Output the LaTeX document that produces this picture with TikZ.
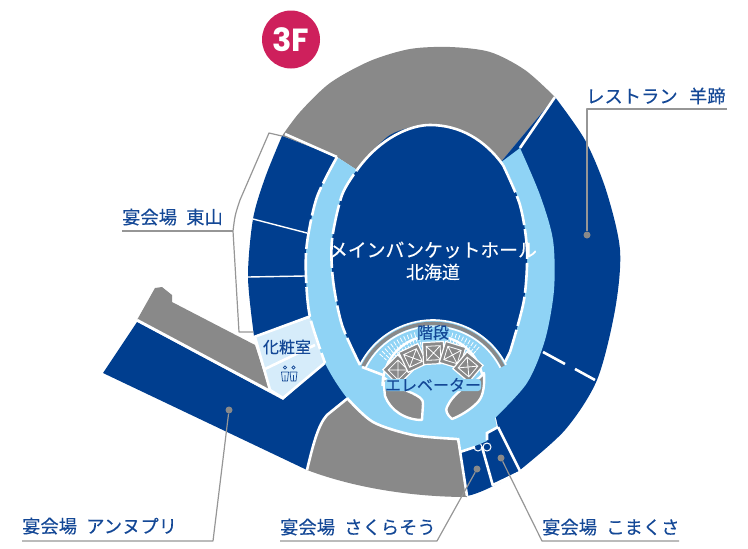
\documentclass[tikz,border=0pt]{standalone}
\usepackage{fontspec}
\setmainfont{Noto Sans CJK JP}[FakeBold=0.25]
\newfontfamily\popf{Poppins}
\definecolor{navy}{RGB}{0,62,143}
\definecolor{lab}{RGB}{20,72,150}
\definecolor{ringc}{RGB}{143,211,245}
\definecolor{pale}{RGB}{214,236,250}
\definecolor{grayc}{RGB}{137,137,137}
\definecolor{linec}{RGB}{150,150,150}
\definecolor{crim}{RGB}{206,32,92}
\tikzset{
 lbl/.style={text=lab,font=\fontsize{18.3}{18.3}\selectfont,inner sep=0pt,anchor=base west},
 lead/.style={draw=linec,line width=1.2pt,line join=round},
 wl/.style={draw=white,line width=2.6pt},
 door/.style={draw=white,line width=2.6pt,dash pattern=on 30pt off 4pt},
 dotc/.style={circle,fill=grayc,inner sep=0pt,minimum size=7pt},
 roomlbl/.style={text=lab,font=\fontsize{16}{16}\selectfont,inner sep=1pt},
}
\begin{document}
\begin{tikzpicture}[x=1pt,y=-1pt]
\useasboundingbox (0,0) rectangle (748,549);
% top gray
\fill[grayc] plot[smooth] coordinates {(282,136)(300,112)(330,83)(370,61)(410,49)(450,47)(490,52)(525,70)(555,97)} -- (500,163) -- (357,170) -- (337,157) -- cycle;
% restaurant
\fill[navy] plot[smooth] coordinates {(555,97)(585,140)(606,190)(620,250)(615,310)(597,380)(565,430)(520,470)} -- (498,427) -- (470,300) -- (500,163) -- cycle;
\draw[wl] (555,97) -- (520,148);
\draw[wl] (543,352) -- (565,364) (575,369) -- (595,380);
% small rooms
\fill[navy] (460,450) -- (467,496) .. controls (478,494) and (500,484) .. (520,470) -- (498,427) -- cycle;
% east hall
\fill[navy] plot[smooth] coordinates {(282,136)(265,178)(253,219)(248,277)(254,336)} -- (310,317) -- (320,270) -- (337,157) -- cycle;
\draw[wl] (285,134) -- (337,157);
\draw[white,line width=1.4pt] (253,219) -- (307,233) (248,277) -- (305,276);
% west wing gray
\fill[grayc] (137,320) -- (155,288) -- (162,287) -- (172,295) -- (172,302) -- (255,345) -- (270,392) -- cycle;
% annupuri
\fill[navy] (137,322) -- (283,400) -- (325,363) -- (350,400) -- (327,415) -- (307,470) -- (103,373) -- cycle;
\draw[wl] (137,320) -- (270,391);
% powder room
\fill[pale] (255,337) -- (310,318) -- (325,363) -- (283,398) -- (270,390) -- cycle;
\draw[wl] (254,337) -- (311,316) (265,369) -- (315,345);
\draw[wl] (255,337) -- (270,390) -- (283,398) -- (326,362);
% bottom gray
\fill[grayc] plot[smooth] coordinates {(347,398)(373,422)(413,435)(457,439)} -- (467,497) .. controls (420,497) and (360,490) .. (307,470) .. controls (313,445) and (318,425) .. (327,415) -- cycle;
\draw[wl] (348,398) -- (327,415) .. controls (318,425) and (313,445) .. (307,470);
% door swings
\draw[white,line width=1pt] (478,447) circle (4) (487,447) circle (4) (337,375) circle (4) (341,381) circle (4);
% ring
\fill[ringc] plot[smooth] coordinates {(337,157)(317,197)(307,243)(306,277)(310,317)(325,363)(347,398)(373,422)(413,435)(457,439)} -- (460,451) -- (475,446) -- (487,441) -- (487,434) -- (497,428) -- (495,418) -- plot[smooth] coordinates {(495,418)(527,383)(545,340)(554,290)(553,240)(540,195)(520,148)} -- (500,163) -- (357,170) -- cycle;
\draw[wl] plot[smooth] coordinates {(347,398)(373,422)(413,435)(457,439)};
\draw[wl] (458,438) -- (467,496);
\draw[wl] (460,452) -- (475,447) (482,447) -- (493,486) (498,427) -- (520,471) (493,485) -- (518,473);
\draw[wl] (498,427) -- (487,433) -- (487,440);
% dashed partition, outer left
\draw[door] plot[smooth] coordinates {(337,157)(317,197)(307,243)(306,277)(310,317)(325,363)};
% main hall
\fill[navy] plot[smooth] coordinates {(360,365)(342,325)(333,280)(332,240)(342,195)(357,170)(390,135)(430,125)(470,135)(503,165)(520,205)(527,250)(524,300)(510,352)} -- (505,362) -- plot[domain=27:153,samples=40] ({433+82*cos(\x)},{402-82*sin(\x)}) -- cycle;
\draw[door] plot[smooth] coordinates {(360,365)(342,325)(333,280)(332,240)(342,195)(357,170)};
\draw[door] plot[smooth] coordinates {(503,165)(520,205)(527,250)(524,300)(510,352)};
\draw[wl] (357,170) .. controls (380,138) and (410,125) .. (430,125) .. controls (460,125) and (485,140) .. (503,165);
\draw[wl] (510,352) -- (505,362);
% arch
\fill[ringc] plot[domain=27:153,samples=40] ({433+80*cos(\x)},{402-80*sin(\x)}) -- cycle;
\draw[white,line width=1.6pt] plot[domain=27:153,samples=40] ({433+82*cos(\x)},{402-82*sin(\x)});
\draw[grayc,line width=3.6pt] plot[domain=27:153,samples=40] ({433+78.5*cos(\x)},{402-78.5*sin(\x)});
\draw[white,line width=1.6pt] plot[domain=27:153,samples=40] ({433+75.5*cos(\x)},{402-75.5*sin(\x)});
\draw[wl] (362,367) -- (383,375);
% stair hatch
\foreach \a in {50,53,...,78,102,105,...,138} {
 \draw[white,line width=.8pt] ({433+56*cos(\a)},{402-56*sin(\a)}) -- ({433+72*cos(\a)},{402-72*sin(\a)});
}
\foreach \r in {62,67} {
 \draw[ringc,line width=.8pt] plot[domain=48:80,samples=10] ({433+\r*cos(\x)},{402-\r*sin(\x)});
 \draw[ringc,line width=.8pt] plot[domain=100:140,samples=10] ({433+\r*cos(\x)},{402-\r*sin(\x)});
}
% core
\draw[white,line width=2.4pt] plot[domain=0:180,samples=50] ({433+50.5*cos(\x)},{386-50.5*sin(\x)});
\foreach \a/\px/\py in {45/398/370,25/413/358,3/433.5/353,-17/452.5/355,-40/468/367} {
 \begin{scope}[shift={(\px,\py)},rotate=\a]
  \draw[white,line width=1.2pt,fill=grayc] (-10.5,-11) rectangle (10.5,11);
  \draw[white,line width=.8pt] (-7,-7) rectangle (7,7) (-7,-7) -- (7,7) (-7,7) -- (7,-7);
 \end{scope}
}
\draw[white,line width=2.4pt,fill=grayc,line join=round] (383,377) .. controls (395,386) and (405,390) .. (412,393) .. controls (418,396) and (424,399) .. (423,404) -- (422,420) .. controls (405,420) and (390,410) .. (385,396) -- cycle;
\draw[white,line width=2.4pt,fill=grayc,line join=round] (484,373) .. controls (485,390) and (482,398) .. (477,403) .. controls (470,410) and (460,416) .. (452,419) .. controls (447,415) and (445,410) .. (447,407) .. controls (450,400) and (455,395) .. (463,388) .. controls (470,385) and (478,380) .. (484,373) -- cycle;
% labels in plan
\node[text=white,font=\fontsize{18.8}{18.8}\selectfont,inner sep=0pt] (hall) at (433,250) {メインバンケットホール};
\node[text=white,font=\fontsize{18}{18}\selectfont,inner sep=0pt] (hallb) at (433,272) {北海道};
\node[roomlbl,fill=ringc,rounded corners=3pt,text height=12pt,text depth=1pt,inner sep=0pt] (kaidan) at (433,333) {階段};
\node[roomlbl,fill=ringc,rounded corners=3pt,inner sep=0pt,text height=12pt,text depth=0pt] (ev) at (433,385) {エレベーター};
\node[roomlbl] (kesho) at (287,347) {化粧室};
% restroom figures
\foreach \fx in {285,293.5} {
 \draw[lab,line width=.7pt] (\fx,367.5) circle (1.7);
 \draw[lab,line width=.7pt,line join=round] (\fx-2.5,381) -- (\fx-3.5,372) -- (\fx+3.5,372) -- (\fx+2.5,381) -- cycle (\fx,375) -- (\fx,381);
}
% badge
\node[circle,fill=crim,minimum size=58pt,inner sep=0pt,text=white,font=\popf\bfseries\fontsize{32}{32}\selectfont] (badge) at (291,39.5) {3F};
% leaders
\node[dotc] (d1) at (587,235) {};
\node[dotc] (d2) at (229,410) {};
\node[dotc] (d3) at (477,469) {};
\node[dotc] (d4) at (501,458) {};
\node[lbl] (l1) at (586,103) {レストラン\hspace{.62em}羊蹄};
\node[lbl] (l2) at (122,224) {宴会場\hspace{.5em}東山};
\node[lbl] (l3) at (22,533) {宴会場\hspace{.5em}アンヌプリ};
\node[lbl] (l4) at (280,534) {宴会場\hspace{.5em}さくらそう};
\node[lbl] (l5) at (542,534) {宴会場\hspace{.5em}こまくさ};
\coordinate (c1a) at (587,109); \coordinate (c1b) at (727,109);
\coordinate (c2a) at (122,231); \coordinate (c2b) at (233,231);
\coordinate (c2c) at (269,133); \coordinate (c2d) at (282,136);
\coordinate (c2e) at (240,200); \coordinate (c2f) at (239,332); \coordinate (c2g) at (253,332);
\coordinate (c3a) at (22,541); \coordinate (c3b) at (213,541);
\coordinate (c4a) at (280,541); \coordinate (c4b) at (437,541);
\coordinate (c5a) at (542,541); \coordinate (c5b) at (679,541);
\draw[lead] (c1b) -- (c1a) -- (d1);
\draw[lead] (c2a) -- (c2b);
\draw[lead] (c2d) -- (c2c) -- (c2e) .. controls (235,215) .. (c2b) -- (c2f) -- (c2g);
\draw[lead] (c3a) -- (c3b) -- (d2);
\draw[lead] (c4a) -- (c4b) -- (d3);
\draw[lead] (c5b) -- (c5a) -- (d4);
\end{tikzpicture}
\end{document}
